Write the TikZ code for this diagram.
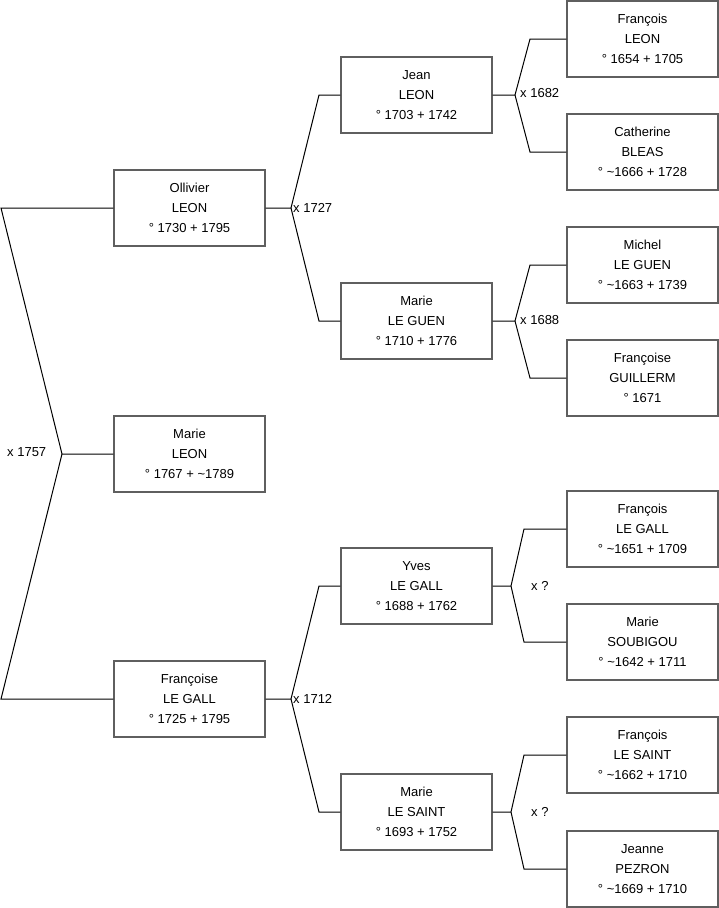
\documentclass[tikz,border=0pt]{standalone}
\usepackage{fontspec}
\setmainfont{Liberation Sans}
\definecolor{boxgray}{RGB}{95,95,95}
\begin{document}
\begin{tikzpicture}[x=1pt,y=-1pt,
  person/.style={draw=boxgray,line width=1.1pt,rectangle,minimum width=151pt,minimum height=76pt,inner sep=0pt,align=center,font=\fontsize{13}{20}\selectfont},
  lab/.style={inner sep=0pt,anchor=west,font=\fontsize{13}{16}\selectfont},
  link/.style={draw=black,line width=1pt}]
\useasboundingbox (0,0) rectangle (719,908);
% column 1
\node[person] (p1) at (189.5,208) {Ollivier\\LEON\\° 1730 + 1795};
\node[person] (p2) at (189.5,454) {Marie\\LEON\\° 1767 + \char`~1789};
\node[person] (p3) at (189.5,699) {Françoise\\LE GALL\\° 1725 + 1795};
% column 2
\node[person] (c1) at (416.5,95) {Jean\\LEON\\° 1703 + 1742};
\node[person] (c2) at (416.5,321) {Marie\\LE GUEN\\° 1710 + 1776};
\node[person] (c3) at (416.5,586) {Yves\\LE GALL\\° 1688 + 1762};
\node[person] (c4) at (416.5,812) {Marie\\LE SAINT\\° 1693 + 1752};
% column 3
\node[person] (g1) at (642.5,39) {François\\LEON\\° 1654 + 1705};
\node[person] (g2) at (642.5,152) {Catherine\\BLEAS\\° \char`~1666 + 1728};
\node[person] (g3) at (642.5,265) {Michel\\LE GUEN\\° \char`~1663 + 1739};
\node[person] (g4) at (642.5,378) {Françoise\\GUILLERM\\° 1671};
\node[person] (g5) at (642.5,529) {François\\LE GALL\\° \char`~1651 + 1709};
\node[person] (g6) at (642.5,642) {Marie\\SOUBIGOU\\° \char`~1642 + 1711};
\node[person] (g7) at (642.5,755) {François\\LE SAINT\\° \char`~1662 + 1710};
\node[person] (g8) at (642.5,869) {Jeanne\\PEZRON\\° \char`~1669 + 1710};
% junction coordinates
\coordinate (lt) at (1,208);
\coordinate (lj) at (62,454);
\coordinate (lb) at (1,699);
\coordinate (j1) at (291,208);
\coordinate (j1a) at (319,95);
\coordinate (j1b) at (319,321);
\coordinate (j2) at (291,699);
\coordinate (j2a) at (319,586);
\coordinate (j2b) at (319,812);
\coordinate (k1) at (515,95);
\coordinate (k1a) at (530,39);
\coordinate (k1b) at (530,152);
\coordinate (k2) at (515,321);
\coordinate (k2a) at (530,265);
\coordinate (k2b) at (530,378);
\coordinate (k3) at (511,586);
\coordinate (k3a) at (524,529);
\coordinate (k3b) at (524,642);
\coordinate (k4) at (511,812);
\coordinate (k4a) at (524,755);
\coordinate (k4b) at (524,869);
% connectors
\draw[link] (p1.west) -- (lt) -- (lj) -- (p2.west);
\draw[link] (lj) -- (lb) -- (p3.west);
\draw[link] (p1.east) -- (j1) -- (j1a) -- (c1.west);
\draw[link] (j1) -- (j1b) -- (c2.west);
\draw[link] (p3.east) -- (j2) -- (j2a) -- (c3.west);
\draw[link] (j2) -- (j2b) -- (c4.west);
\draw[link] (c1.east) -- (k1) -- (k1a) -- (g1.west);
\draw[link] (k1) -- (k1b) -- (g2.west);
\draw[link] (c2.east) -- (k2) -- (k2a) -- (g3.west);
\draw[link] (k2) -- (k2b) -- (g4.west);
\draw[link] (c3.east) -- (k3) -- (k3a) -- (g5.west);
\draw[link] (k3) -- (k3b) -- (g6.west);
\draw[link] (c4.east) -- (k4) -- (k4a) -- (g7.west);
\draw[link] (k4) -- (k4b) -- (g8.west);
% marriage labels
\node[lab] (m0) at (7,452) {x 1757};
\node[lab] (m1) at (293,208) {x 1727};
\node[lab] (m2) at (293,699) {x 1712};
\node[lab] (m3) at (520,93) {x 1682};
\node[lab] (m4) at (520,320) {x 1688};
\node[lab] (m5) at (531,586) {x ?};
\node[lab] (m6) at (531,812) {x ?};
\end{tikzpicture}
\end{document}
